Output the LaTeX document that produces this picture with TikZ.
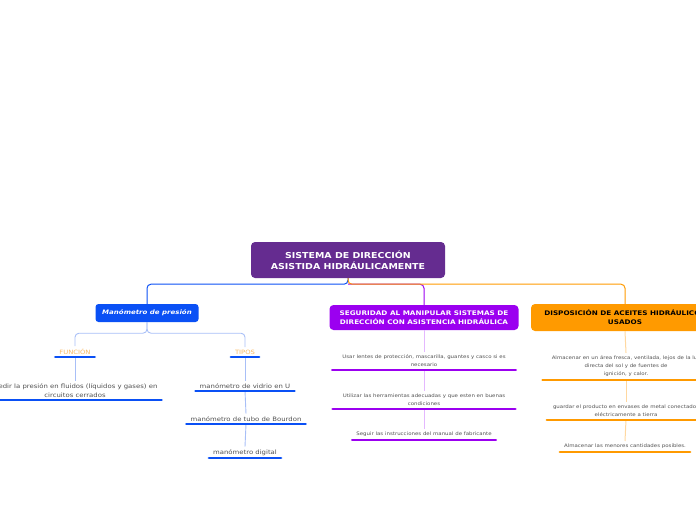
\documentclass[tikz,border=0pt]{standalone}
\usepackage{fontspec}
\setmainfont{DejaVu Sans}[FakeStretch=1.15]
\usetikzlibrary{positioning}
\definecolor{rootPurple}{HTML}{652C90}
\definecolor{mBlue}{HTML}{0A50F5}
\definecolor{lBlue}{HTML}{A8BFF7}
\definecolor{mPurple}{HTML}{9B00F0}
\definecolor{lPurple}{HTML}{E4B8FF}
\definecolor{mOrange}{HTML}{FF9A00}
\definecolor{lOrange}{HTML}{FFD8A0}
\definecolor{tagOrange}{HTML}{F8B860}
\definecolor{leafGray}{HTML}{505050}
\tikzset{
  mainTopic/.style = {rectangle, rounded corners=4pt, fill=rootPurple, text=white,
    minimum width=194pt, minimum height=36pt, align=center,
    font=\fontsize{8.2pt}{11pt}\selectfont\bfseries},
  blueTopic/.style = {rectangle, rounded corners=3pt, fill=mBlue, text=white,
    minimum width=103pt, minimum height=18pt, align=center,
    font=\fontsize{6.1pt}{8pt}\selectfont\bfseries\itshape},
  purpleTopic/.style = {rectangle, rounded corners=4pt, fill=mPurple, text=white,
    minimum width=189pt, minimum height=25pt, align=center,
    font=\fontsize{6.3pt}{9pt}\selectfont\bfseries},
  orangeTopic/.style = {rectangle, rounded corners=4pt, fill=mOrange, text=black,
    minimum width=188pt, minimum height=27pt, align=center,
    font=\fontsize{6.3pt}{9pt}\selectfont\bfseries},
  tagLabel/.style = {anchor=south, text=tagOrange, inner xsep=4pt, inner ysep=2.5pt,
    font=\fontsize{5.9pt}{7pt}\selectfont},
  leafBlue/.style = {anchor=south, text=leafGray, align=center, inner xsep=4pt,
    inner ysep=2.5pt, font=\fontsize{6pt}{9pt}\selectfont},
  leafSmall/.style = {anchor=south, text=leafGray, align=center, inner xsep=4pt,
    inner ysep=3pt, font=\fontsize{4.75pt}{8pt}\selectfont},
  lnBlue/.style = {draw=mBlue, line width=1pt, rounded corners=4pt},
  lnPurple/.style = {draw=mPurple, line width=1pt, rounded corners=4pt},
  lnOrange/.style = {draw=mOrange, line width=1pt, rounded corners=4pt},
  subBlue/.style = {draw=lBlue, line width=0.9pt, rounded corners=4pt},
  subPurple/.style = {draw=lPurple, line width=1pt},
  subOrange/.style = {draw=lOrange, line width=1pt},
  ulBlue/.style = {draw=mBlue, line width=2.6pt, line cap=round},
  ulPurple/.style = {draw=mPurple, line width=2.6pt, line cap=round},
  ulOrange/.style = {draw=mOrange, line width=2.6pt, line cap=round},
}
\begin{document}
\begin{tikzpicture}[x=1pt, y=-1pt]
\useasboundingbox (0,0) rectangle (696,520);
\clip (0,0) rectangle (696,520);

% main topics
\node[mainTopic] (root) at (348,260) {SISTEMA DE DIRECCIÓN\\ASISTIDA HIDRÁULICAMENTE};
\node[blueTopic] (mano) at (147,313) {Manómetro de presión};
\node[purpleTopic] (segu) at (424,317.5) {SEGURIDAD AL MANIPULAR SISTEMAS DE\\DIRECCIÓN CON ASISTENCIA HIDRÁULICA};
\node[orangeTopic] (disp) at (625,317.5) {DISPOSICIÓN DE ACEITES HIDRÁULICOS\\USADOS};

% manometro branch
\node[tagLabel] (func) at (75,357) {FUNCIÓN};
\node[tagLabel] (tipos) at (245,357) {TIPOS};
\node[leafBlue] (medir) at (75,400) {Medir la presión en fluidos (líquidos y gases) en\\circuitos cerrados};
\node[leafBlue] (vidrio) at (245,391) {manómetro de vidrio en U};
\node[leafBlue] (bourdon) at (246,424) {manómetro de tubo de Bourdon};
\node[leafBlue] (digital) at (245,458) {manómetro digital};

% seguridad branch
\node[leafSmall, inner xsep=10pt] (usar) at (424,370) {Usar lentes de protección, mascarilla, guantes y casco si es\\necesario};
\node[leafSmall, inner xsep=10pt] (utilizar) at (424,409) {Utilizar las herramientas adecuadas y que esten en buenas\\condiciones};
\node[leafSmall] (seguir) at (424,440) {Seguir las instrucciones del manual de fabricante};

% disposicion branch
\node[leafSmall, inner xsep=9pt] (alm1) at (626,380) {Almacenar en un área fresca, ventilada, lejos de la luz\\directa del sol y de fuentes de\\ignición, y calor.};
\node[leafSmall, inner xsep=6pt] (guardar) at (626,420) {guardar el producto en envases de metal conectados\\eléctricamente a tierra};
\node[leafSmall] (alm2) at (625,452) {Almacenar las menores cantidades posibles.};

% connectors
\draw[lnPurple] (root.south) ++(0,6) -| (segu.north);
\draw[lnBlue] (root.south) -- ++(0,6) -| (mano.north);
\draw[lnOrange] (root.south) -- ++(0,6) -| (disp.north);
\draw[subBlue] (mano.south) -- ++(0,11) -| (func.north);
\draw[subBlue] (mano.south) -- ++(0,11) -| (tipos.north);
\draw[subBlue] (func.south) -- (medir.north);
\draw[subBlue] (tipos.south) -- (vidrio.north);
\draw[subBlue] (vidrio.south) -- (bourdon.north);
\draw[subBlue] (bourdon.south) -- (digital.north);
\draw[subPurple] (segu.south) -- (usar.north);
\draw[subPurple] (usar.south) -- (utilizar.north);
\draw[subPurple] (utilizar.south) -- (seguir.north);
\draw[subOrange] (disp.south) -- (alm1.north);
\draw[subOrange] (alm1.south) -- (guardar.north);
\draw[subOrange] (guardar.south) -- (alm2.north);

% underlines
\foreach \n in {func, tipos, medir, vidrio, bourdon, digital}
  \draw[ulBlue] (\n.south west) -- (\n.south east);
\foreach \n in {usar, utilizar, seguir}
  \draw[ulPurple] (\n.south west) -- (\n.south east);
\foreach \n in {alm1, guardar, alm2}
  \draw[ulOrange] (\n.south west) -- (\n.south east);

\end{tikzpicture}
\end{document}
